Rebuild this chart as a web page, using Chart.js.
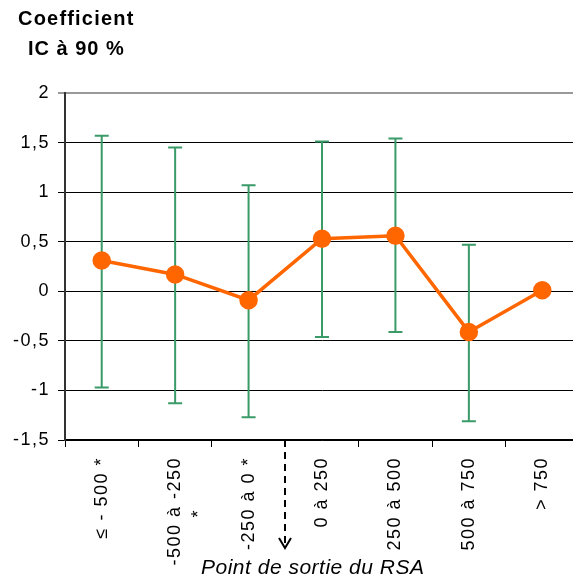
<!DOCTYPE html>
<html>
<head>
<meta charset="utf-8">
<script src="https://cdn.jsdelivr.net/npm/chart.js@4.4.1/dist/chart.umd.min.js"></script>
<style>
  body { margin: 0; background: #fff; overflow: hidden; width: 573px; height: 580px; }
  #wrap { position: absolute; left: 0; top: 0; width: 590px; height: 580px; }
  .txt { position: absolute; font-family: "Liberation Sans", Arial, sans-serif; color: #000; white-space: nowrap; }
</style>
</head>
<body>
<div id="wrap"><canvas id="myChart"></canvas></div>
<div class="txt" style="left:18px; top:7px; font-size:20px; font-weight:bold; letter-spacing:1.2px;">Coefficient</div>
<div class="txt" style="left:28px; top:37px; font-size:20px; font-weight:bold; letter-spacing:1px;">IC à 90 %</div>
<div class="txt" style="left:201px; top:555px; font-size:21px; font-style:italic; letter-spacing:0.5px;">Point de sortie du RSA</div>
<script>
const categories = [
    '≤ - 500 *',
    ['-500 à -250', '*' + '\u00a0'.repeat(8)],
    '-250 à 0 *',
    '0 à 250',
    '250 à 500',
    '500 à 750',
    '> 750'
];
const coefficients = [0.31, 0.17, -0.09, 0.53, 0.56, -0.41, 0.01];
const upperCI = [1.57, 1.45, 1.07, 1.51, 1.54, 0.47, null];
const lowerCI = [-0.97, -1.13, -1.27, -0.46, -0.41, -1.31, null];
const yTicks = [2, 1.5, 1, 0.5, 0, -0.5, -1, -1.5];

// wider letter spacing, like the original export
const spacing = {
    id: 'spacing',
    beforeLayout(chart) { chart.ctx.letterSpacing = '1.5px'; },
    beforeDraw(chart) { chart.ctx.letterSpacing = '1.5px'; }
};

// error bars drawn behind the points
const errorBars = {
    id: 'errorBars',
    beforeDatasetsDraw(chart) {
        const ctx = chart.ctx;
        const x = chart.scales.x, y = chart.scales.y;
        ctx.save();
        ctx.strokeStyle = '#3a9a68';
        ctx.lineWidth = 2;
        for (let i = 0; i < categories.length; i++) {
            if (upperCI[i] == null) continue;
            const px = x.getPixelForValue(i);
            const top = y.getPixelForValue(upperCI[i]);
            const bot = y.getPixelForValue(lowerCI[i]);
            ctx.beginPath();
            ctx.moveTo(px, top); ctx.lineTo(px, bot);
            ctx.moveTo(px - 7, top); ctx.lineTo(px + 7, top);
            ctx.moveTo(px - 7, bot); ctx.lineTo(px + 7, bot);
            ctx.stroke();
        }
        ctx.restore();
    }
};

// dashed arrow marking the exit point, between 3rd and 4th category
const exitArrow = {
    id: 'exitArrow',
    afterDraw(chart) {
        const ctx = chart.ctx;
        const x = chart.scales.x;
        const px = Math.round((x.getPixelForValue(2) + x.getPixelForValue(3)) / 2);
        const y0 = chart.chartArea.bottom;
        const y1 = y0 + 108;
        ctx.save();
        ctx.strokeStyle = '#000';
        ctx.lineWidth = 2;
        ctx.setLineDash([7, 5]);
        ctx.beginPath();
        ctx.moveTo(px, y0); ctx.lineTo(px, y1);
        ctx.stroke();
        ctx.setLineDash([]);
        ctx.beginPath();
        ctx.moveTo(px - 6, y1 - 10); ctx.lineTo(px, y1); ctx.lineTo(px + 6, y1 - 10);
        ctx.stroke();
        ctx.restore();
    }
};

const ctx = document.getElementById('myChart').getContext('2d');
const chart = new Chart(ctx, {
    type: 'line',
    data: {
        labels: categories,
        datasets: [{
            data: coefficients,
            borderColor: '#ff6600',
            backgroundColor: '#ff6600',
            borderWidth: 3.5,
            pointRadius: 7.5,
            pointHoverRadius: 7.5,
            tension: 0
        }]
    },
    options: {
        responsive: true,
        maintainAspectRatio: false,
        animation: false,
        layout: { padding: { top: 93, right: 4, left: 0, bottom: 0 } },
        plugins: { legend: { display: false }, tooltip: { enabled: false } },
        scales: {
            x: {
                offset: true,
                grid: { drawOnChartArea: false, offset: true, tickLength: 7, color: '#000' },
                border: { color: '#000', width: 1.5 },
                ticks: {
                    minRotation: 90, maxRotation: 90, padding: 10,
                    color: '#000',
                    font: { family: '"Liberation Sans", Arial, sans-serif', size: 18, lineHeight: 1.3 }
                },
                afterFit(scale) { scale.height = 140; }
            },
            y: {
                min: -1.5, max: 2,
                afterBuildTicks(scale) { scale.ticks = yTicks.map(v => ({ value: v })); },
                grid: {
                    tickLength: 7,
                    color: c => c.tick && c.tick.value === 2 ? '#999' : '#000',
                    lineWidth: c => c.tick && c.tick.value === 2 ? 2 : 1
                },
                border: { color: '#333', width: 2 },
                ticks: {
                    padding: 8, color: '#000',
                    font: { family: '"Liberation Sans", Arial, sans-serif', size: 18 },
                    callback: v => String(v).replace('.', ',')
                },
                afterFit(scale) { scale.width = 65; }
            }
        }
    },
    plugins: [spacing, errorBars, exitArrow]
});
</script>
</body>
</html>
